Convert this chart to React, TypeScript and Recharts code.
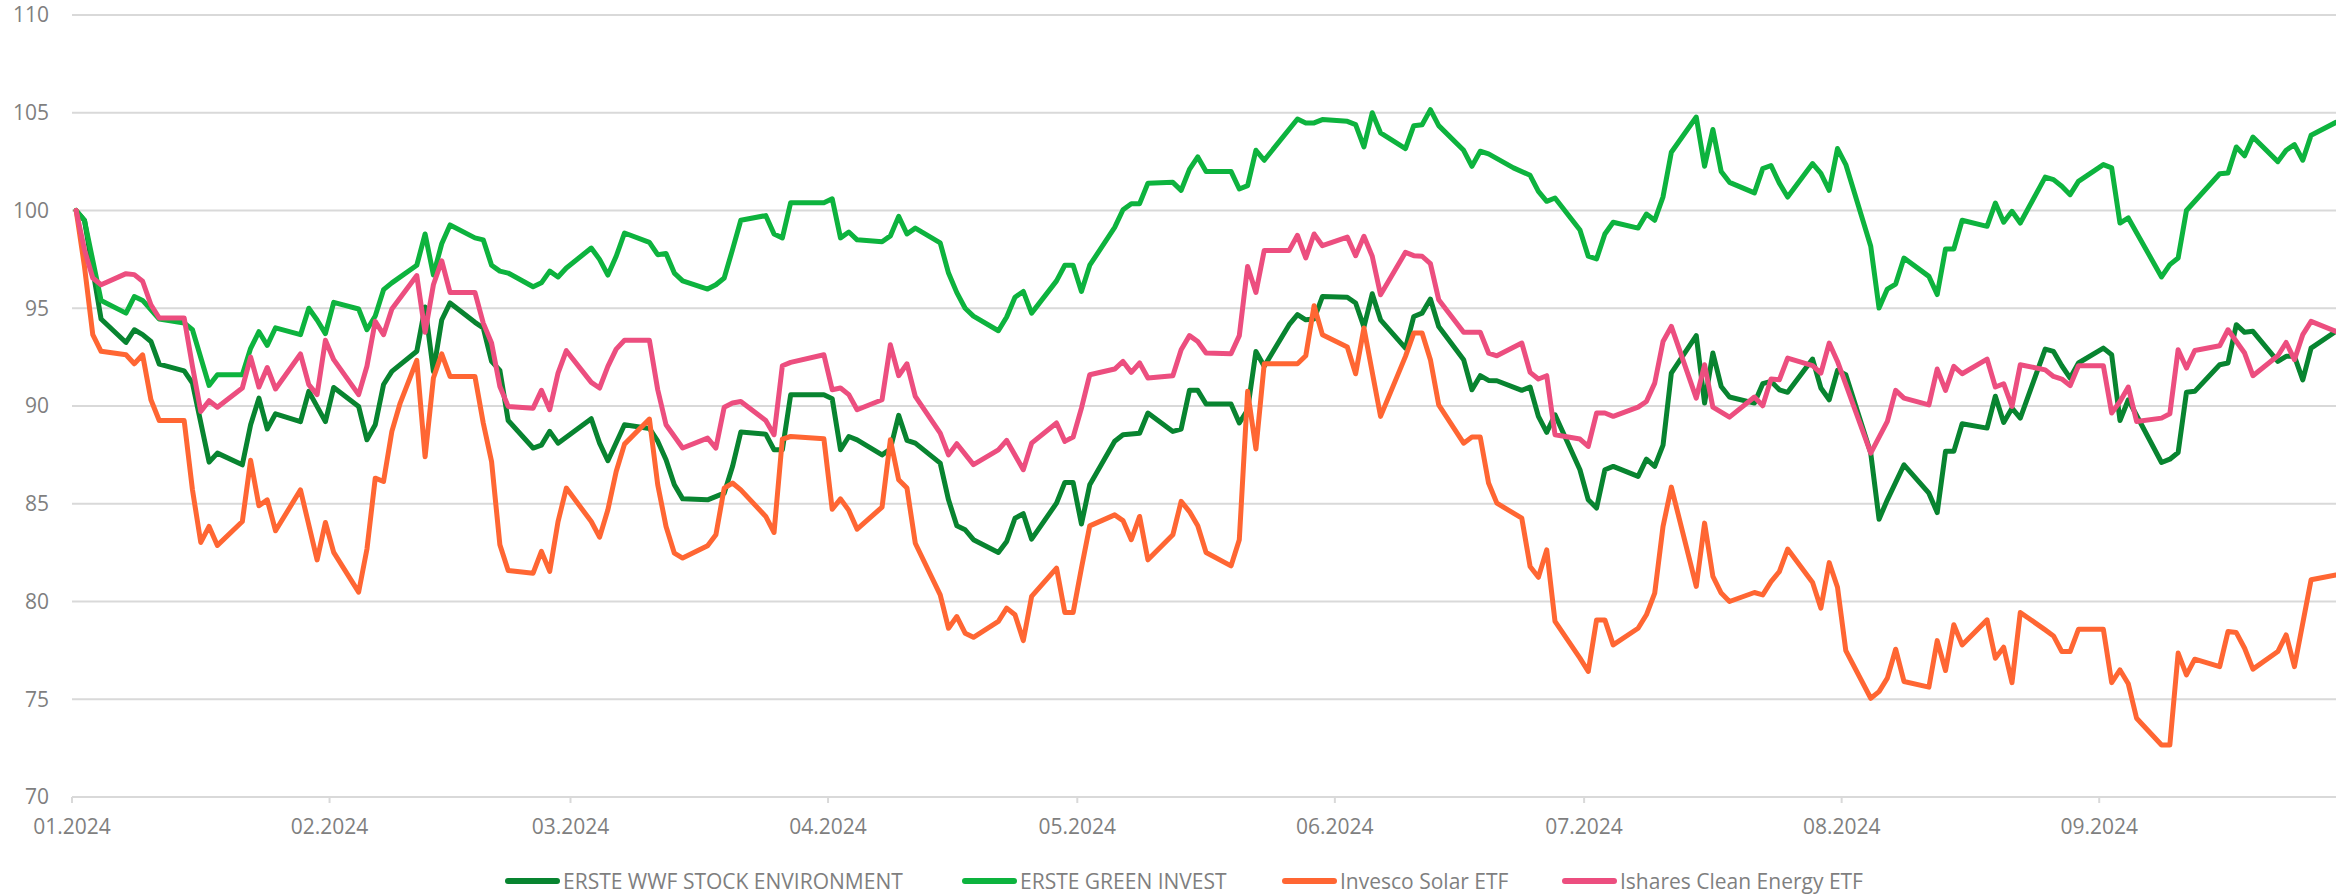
import { LineChart, Line, XAxis, YAxis, CartesianGrid, Legend } from "recharts"

// day offset from 01.01.2024, index value
const wwf: [number, number][] = [
  [1, 100], [2, 99.5], [4, 94.45], [7, 93.25], [8, 93.9], [9, 93.65], [10, 93.3], [11, 92.14], [14, 91.8], [15, 91.17],
  [17, 87.13], [18, 87.59], [21, 86.99], [22, 89.04], [23, 90.4], [24, 88.82], [25, 89.6], [28, 89.2], [29, 90.75], [31, 89.2],
  [32, 90.95], [35, 89.98], [36, 88.27], [37, 89.04], [38, 91.1], [39, 91.77], [42, 92.8], [43, 95.06], [44, 91.77], [45, 94.4],
  [46, 95.27], [49, 94.28], [50, 93.99], [51, 92.28], [52, 91.82], [53, 89.26], [56, 87.85], [57, 88.0], [58, 88.7], [59, 88.1],
  [63, 89.35], [64, 88.1], [65, 87.2], [67, 89.04], [70, 88.85], [71, 88.2], [72, 87.25], [73, 85.97], [74, 85.25], [77, 85.2],
  [79, 85.54], [80, 86.9], [81, 88.67], [84, 88.56], [85, 87.76], [86, 87.76], [87, 90.57], [91, 90.57], [92, 90.37], [93, 87.76],
  [94, 88.44], [95, 88.27], [98, 87.5], [99, 87.8], [100, 89.52], [101, 88.24], [102, 88.1], [105, 87.08], [106, 85.2], [107, 83.87],
  [108, 83.67], [109, 83.16], [112, 82.51], [113, 83.07], [114, 84.26], [115, 84.49], [116, 83.19], [119, 85.03], [120, 86.09], [121, 86.09],
  [122, 83.96], [123, 85.97], [126, 88.2], [127, 88.53], [129, 88.61], [130, 89.64], [133, 88.7], [134, 88.82], [135, 90.8], [136, 90.8],
  [137, 90.1], [140, 90.1], [141, 89.13], [142, 89.81], [143, 92.79], [144, 92.03], [147, 94.16], [148, 94.67], [149, 94.41], [150, 94.45],
  [151, 95.6], [154, 95.56], [155, 95.27], [156, 94.04], [157, 95.74], [158, 94.41], [161, 92.96], [162, 94.58], [163, 94.75], [164, 95.47],
  [165, 94.07], [168, 92.37], [169, 90.83], [170, 91.55], [171, 91.31], [172, 91.29], [175, 90.8], [176, 90.97], [177, 89.47], [178, 88.65],
  [179, 89.55], [182, 86.74], [183, 85.2], [184, 84.78], [185, 86.74], [186, 86.91], [189, 86.4], [190, 87.28], [191, 86.91], [192, 88.0],
  [193, 91.68], [196, 93.6], [197, 90.15], [198, 92.71], [199, 91.0], [200, 90.46], [203, 90.15], [204, 91.14], [205, 91.26], [206, 90.83],
  [207, 90.7], [210, 92.4], [211, 90.92], [212, 90.32], [213, 91.82], [214, 91.6], [217, 87.59], [218, 84.21], [219, 85.2], [221, 86.99],
  [224, 85.54], [225, 84.55], [226, 87.68], [227, 87.68], [228, 89.09], [231, 88.87], [232, 90.5], [233, 89.16], [234, 89.89], [235, 89.38],
  [238, 92.91], [239, 92.79], [240, 92.06], [241, 91.43], [242, 92.2], [245, 92.96], [246, 92.62], [247, 89.26], [248, 90.32], [252, 87.11],
  [253, 87.28], [254, 87.62], [255, 90.7], [256, 90.75], [259, 92.11], [260, 92.2], [261, 94.16], [262, 93.77], [263, 93.82], [266, 92.28],
  [267, 92.54], [268, 92.54], [269, 91.34], [270, 92.96], [273, 93.82],
]

const greenInvest: [number, number][] = [
  [1, 100], [2, 99.5], [4, 95.4], [7, 94.75], [8, 95.6], [9, 95.4], [11, 94.45], [14, 94.25], [15, 93.9], [17, 91.05],
  [18, 91.6], [21, 91.6], [22, 92.95], [23, 93.8], [24, 93.1], [25, 94.0], [28, 93.65], [29, 95.0], [30, 94.4], [31, 93.7],
  [32, 95.3], [35, 94.96], [36, 93.9], [37, 94.6], [38, 95.95], [39, 96.3], [42, 97.2], [43, 98.8], [44, 96.7], [45, 98.3],
  [46, 99.26], [49, 98.6], [50, 98.5], [51, 97.2], [52, 96.9], [53, 96.8], [56, 96.1], [57, 96.3], [58, 96.9], [59, 96.6],
  [60, 97.06], [63, 98.08], [64, 97.5], [65, 96.7], [66, 97.66], [67, 98.85], [70, 98.37], [71, 97.74], [72, 97.8], [73, 96.8],
  [74, 96.4], [77, 95.98], [78, 96.2], [79, 96.55], [80, 98.0], [81, 99.5], [84, 99.74], [85, 98.8], [86, 98.6], [87, 100.4],
  [91, 100.4], [92, 100.6], [93, 98.6], [94, 98.9], [95, 98.5], [98, 98.4], [99, 98.7], [100, 99.7], [101, 98.8], [102, 99.1],
  [105, 98.34], [106, 96.8], [107, 95.8], [108, 95.0], [109, 94.6], [112, 93.85], [113, 94.55], [114, 95.56], [115, 95.86], [116, 94.75],
  [119, 96.4], [120, 97.2], [121, 97.2], [122, 95.86], [123, 97.2], [126, 99.14], [127, 100.04], [128, 100.35], [129, 100.35], [130, 101.4],
  [133, 101.44], [134, 101.03], [135, 102.1], [136, 102.74], [137, 102.0], [140, 102.0], [141, 101.1], [142, 101.27], [143, 103.08], [144, 102.57],
  [148, 104.68], [149, 104.48], [150, 104.48], [151, 104.65], [154, 104.56], [155, 104.39], [156, 103.25], [157, 105.0], [158, 103.97], [161, 103.17],
  [162, 104.34], [163, 104.39], [164, 105.16], [165, 104.34], [168, 103.08], [169, 102.26], [170, 103.03], [171, 102.9], [174, 102.18], [176, 101.8],
  [177, 100.98], [178, 100.47], [179, 100.64], [182, 99.0], [183, 97.66], [184, 97.52], [185, 98.8], [186, 99.4], [189, 99.1], [190, 99.82],
  [191, 99.5], [192, 100.7], [193, 102.98], [196, 104.78], [197, 102.26], [198, 104.14], [199, 102.0], [200, 101.44], [203, 100.9], [204, 102.14],
  [205, 102.3], [206, 101.4], [207, 100.69], [210, 102.4], [211, 101.9], [212, 101.03], [213, 103.17], [214, 102.35], [217, 98.17], [218, 95.01],
  [219, 95.98], [220, 96.24], [221, 97.57], [224, 96.63], [225, 95.7], [226, 98.03], [227, 98.03], [228, 99.5], [231, 99.19], [232, 100.38],
  [233, 99.4], [234, 99.96], [235, 99.36], [238, 101.71], [239, 101.58], [240, 101.24], [241, 100.81], [242, 101.49], [245, 102.35], [246, 102.18],
  [247, 99.36], [248, 99.62], [252, 96.6], [253, 97.23], [254, 97.57], [255, 100.0], [259, 101.88], [260, 101.92], [261, 103.25], [262, 102.8],
  [263, 103.76], [266, 102.5], [267, 103.08], [268, 103.37], [269, 102.57], [270, 103.85], [273, 104.51],
]

const solar: [number, number][] = [
  [1, 100], [2, 97.14], [3, 93.65], [4, 92.8], [7, 92.62], [8, 92.16], [9, 92.62], [10, 90.32], [11, 89.26], [14, 89.26],
  [15, 85.71], [16, 83.02], [17, 83.84], [18, 82.87], [21, 84.09], [22, 87.22], [23, 84.9], [24, 85.2], [25, 83.62], [28, 85.71],
  [30, 82.13], [31, 84.04], [32, 82.51], [35, 80.48], [36, 82.68], [37, 86.31], [38, 86.14], [39, 88.7], [40, 90.15], [42, 92.33],
  [43, 87.4], [44, 91.43], [45, 92.67], [46, 91.51], [49, 91.51], [50, 89.13], [51, 87.16], [52, 82.9], [53, 81.59], [56, 81.45],
  [57, 82.56], [58, 81.54], [59, 84.09], [60, 85.8], [63, 84.09], [64, 83.29], [65, 84.69], [66, 86.65], [67, 88.05], [70, 89.33],
  [71, 85.97], [72, 83.84], [73, 82.47], [74, 82.22], [77, 82.85], [78, 83.41], [79, 85.8], [80, 86.06], [81, 85.71], [84, 84.35],
  [85, 83.53], [86, 88.31], [87, 88.44], [91, 88.32], [92, 84.72], [93, 85.25], [94, 84.66], [95, 83.7], [98, 84.83], [99, 88.27],
  [100, 86.23], [101, 85.8], [102, 82.98], [105, 80.34], [106, 78.63], [107, 79.23], [108, 78.38], [109, 78.17], [112, 78.98], [113, 79.66],
  [114, 79.32], [115, 78.0], [116, 80.26], [119, 81.71], [120, 79.44], [121, 79.44], [122, 81.71], [123, 83.87], [126, 84.43], [127, 84.14],
  [128, 83.16], [129, 84.35], [130, 82.13], [133, 83.41], [134, 85.12], [135, 84.6], [136, 83.87], [137, 82.51], [140, 81.82], [141, 83.16],
  [142, 90.75], [143, 87.8], [144, 92.16], [148, 92.16], [149, 92.57], [150, 95.13], [151, 93.65], [154, 93.02], [155, 91.65], [156, 93.99],
  [158, 89.47], [161, 92.54], [162, 93.73], [163, 93.73], [164, 92.37], [165, 90.06], [168, 88.1], [169, 88.41], [170, 88.41], [171, 86.06],
  [172, 85.03], [175, 84.26], [176, 81.79], [177, 81.24], [178, 82.64], [179, 78.98], [182, 77.1], [183, 76.42], [184, 79.06], [185, 79.06],
  [186, 77.78], [189, 78.63], [190, 79.32], [191, 80.43], [192, 83.84], [193, 85.85], [196, 80.77], [197, 84.01], [198, 81.28], [199, 80.43],
  [200, 80.0], [203, 80.46], [204, 80.34], [205, 81.02], [206, 81.53], [207, 82.68], [210, 80.97], [211, 79.66], [212, 81.99], [213, 80.73],
  [214, 77.49], [217, 75.05], [218, 75.39], [219, 76.08], [220, 77.56], [221, 75.91], [224, 75.62], [225, 78.0], [226, 76.47], [227, 78.81],
  [228, 77.78], [231, 79.06], [232, 77.1], [233, 77.66], [234, 75.85], [235, 79.44], [238, 78.55], [239, 78.24], [240, 77.44], [241, 77.44],
  [242, 78.58], [245, 78.58], [246, 75.85], [247, 76.5], [248, 75.79], [249, 74.03], [252, 72.66], [253, 72.66], [254, 77.36], [255, 76.25],
  [256, 77.05], [259, 76.67], [260, 78.46], [261, 78.41], [262, 77.61], [263, 76.54], [266, 77.44], [267, 78.29], [268, 76.67], [270, 81.11],
  [273, 81.36],
]

const cleanEnergy: [number, number][] = [
  [1, 100], [2, 98.0], [3, 96.55], [4, 96.2], [7, 96.77], [8, 96.72], [9, 96.38], [10, 95.18], [11, 94.5], [14, 94.5],
  [15, 92.03], [16, 89.72], [17, 90.27], [18, 89.94], [21, 90.92], [22, 92.5], [23, 90.97], [24, 91.97], [25, 90.87], [28, 92.66],
  [29, 91.09], [30, 90.58], [31, 93.36], [32, 92.37], [35, 90.58], [36, 92.03], [37, 94.33], [38, 93.65], [39, 94.96], [42, 96.67],
  [43, 93.77], [44, 96.2], [45, 97.43], [46, 95.81], [49, 95.81], [50, 94.24], [51, 93.22], [52, 91.0], [53, 89.98], [56, 89.89],
  [57, 90.8], [58, 89.81], [59, 91.68], [60, 92.83], [63, 91.21], [64, 90.92], [65, 92.03], [66, 92.91], [67, 93.36], [70, 93.36],
  [71, 90.83], [72, 89.04], [74, 87.85], [77, 88.36], [78, 87.85], [79, 89.94], [80, 90.15], [81, 90.23], [84, 89.26], [85, 88.53],
  [86, 92.06], [87, 92.23], [91, 92.62], [92, 90.83], [93, 90.92], [94, 90.58], [95, 89.81], [98, 90.32], [99, 93.13], [100, 91.55],
  [101, 92.16], [102, 90.49], [105, 88.61], [106, 87.5], [107, 88.07], [109, 87.0], [112, 87.76], [113, 88.24], [115, 86.74], [116, 88.1],
  [119, 89.13], [120, 88.19], [121, 88.41], [122, 89.89], [123, 91.6], [126, 91.89], [127, 92.28], [128, 91.72], [129, 92.2], [130, 91.43],
  [133, 91.55], [134, 92.88], [135, 93.6], [136, 93.3], [137, 92.71], [140, 92.67], [141, 93.6], [142, 97.14], [143, 95.81], [144, 97.96],
  [147, 97.96], [148, 98.73], [149, 97.57], [150, 98.8], [151, 98.2], [154, 98.64], [155, 97.69], [156, 98.68], [157, 97.66], [158, 95.69],
  [161, 97.86], [162, 97.69], [163, 97.66], [164, 97.28], [165, 95.44], [168, 93.77], [170, 93.77], [171, 92.71], [172, 92.57], [175, 93.22],
  [176, 91.72], [177, 91.38], [178, 91.55], [179, 88.53], [182, 88.31], [183, 87.93], [184, 89.64], [185, 89.64], [186, 89.47], [189, 89.94],
  [190, 90.23], [191, 91.17], [192, 93.3], [193, 94.07], [196, 90.4], [197, 92.11], [198, 89.94], [200, 89.43], [203, 90.46], [204, 90.01],
  [205, 91.38], [206, 91.34], [207, 92.45], [210, 92.06], [211, 91.68], [212, 93.22], [213, 92.28], [217, 87.59], [219, 89.21], [220, 90.8],
  [221, 90.4], [224, 90.06], [225, 91.89], [226, 90.8], [227, 92.03], [228, 91.65], [231, 92.4], [232, 90.97], [233, 91.14], [234, 89.98],
  [235, 92.11], [238, 91.85], [239, 91.51], [240, 91.38], [241, 91.04], [242, 92.06], [245, 92.06], [246, 89.64], [247, 90.23], [248, 90.97],
  [249, 89.21], [252, 89.38], [253, 89.6], [254, 92.88], [255, 91.94], [256, 92.84], [259, 93.08], [260, 93.9], [262, 92.71], [263, 91.55],
  [266, 92.57], [267, 93.25], [268, 92.37], [269, 93.65], [270, 94.33], [273, 93.82],
]

const monthStarts = [0, 31, 60, 91, 121, 152, 182, 213, 244]
const monthLabels = ["01.2024", "02.2024", "03.2024", "04.2024", "05.2024", "06.2024", "07.2024", "08.2024", "09.2024"]
const yTicks = [70, 75, 80, 85, 90, 95, 100, 105, 110]

const series = [
  { name: "ERSTE WWF STOCK ENVIRONMENT", color: "#088430", points: wwf },
  { name: "ERSTE GREEN INVEST", color: "#0db33e", points: greenInvest },
  { name: "Invesco Solar ETF", color: "#ff6633", points: solar },
  { name: "Ishares Clean Energy ETF", color: "#ec4e7f", points: cleanEnergy },
]

// where each legend entry starts, in px from the left
const legendLefts = [505, 962, 1282, 1562]

// ticks sit on the edge of the day slot, points in its middle
const xTicks = monthStarts.map((d) => d + 0.5)

const axisText = { fontSize: 21, fill: "#7f7f7f", fontFamily: "'Open Sans', sans-serif" }

function renderLegend() {
  return (
    <div style={{ position: "relative", height: 58 }}>
      {series.map((s, i) => (
        <div
          key={s.name}
          style={{ position: "absolute", left: legendLefts[i], top: 33, height: 22, display: "flex", alignItems: "center" }}
        >
          <span style={{ display: "inline-block", width: 55, height: 6, borderRadius: 3, background: s.color, marginRight: 3 }} />
          <span style={{ fontSize: 21, color: "#7f7f7f", fontFamily: "'Open Sans', sans-serif", lineHeight: "22px", whiteSpace: "nowrap" }}>
            {s.name}
          </span>
        </div>
      ))}
    </div>
  )
}

export default function App() {
  return (
    <div style={{ position: "absolute", left: 0, top: 0, width: 2346, height: 895, background: "#fff" }}>
      <LineChart width={2346} height={895} margin={{ top: 15, right: 10, left: 0, bottom: 0 }}>
        <CartesianGrid horizontal vertical={false} stroke="#d9d9d9" strokeWidth={2} />
        <XAxis
          dataKey="day"
          type="number"
          domain={[0.5, 273]}
          ticks={xTicks}
          interval={0}
          allowDataOverflow
          height={40}
          tickSize={6}
          tickMargin={16}
          axisLine={{ stroke: "#d9d9d9", strokeWidth: 2 }}
          tickLine={{ stroke: "#d9d9d9", strokeWidth: 2 }}
          tick={axisText}
          tickFormatter={(v: number) => monthLabels[xTicks.indexOf(v)] ?? ""}
        />
        <YAxis
          type="number"
          domain={[70, 110]}
          ticks={yTicks}
          interval={0}
          width={72}
          axisLine={false}
          tickLine={false}
          tickSize={0}
          tickMargin={23}
          tick={axisText}
        />
        <Legend verticalAlign="bottom" height={58} content={renderLegend} />
        {series.map((s) => (
          <Line
            key={s.name}
            name={s.name}
            data={s.points.map(([day, value]) => ({ day, value }))}
            dataKey="value"
            type="linear"
            stroke={s.color}
            strokeWidth={5}
            strokeLinejoin="round"
            strokeLinecap="round"
            dot={false}
            activeDot={false}
            isAnimationActive={false}
          />
        ))}
      </LineChart>
    </div>
  )
}
